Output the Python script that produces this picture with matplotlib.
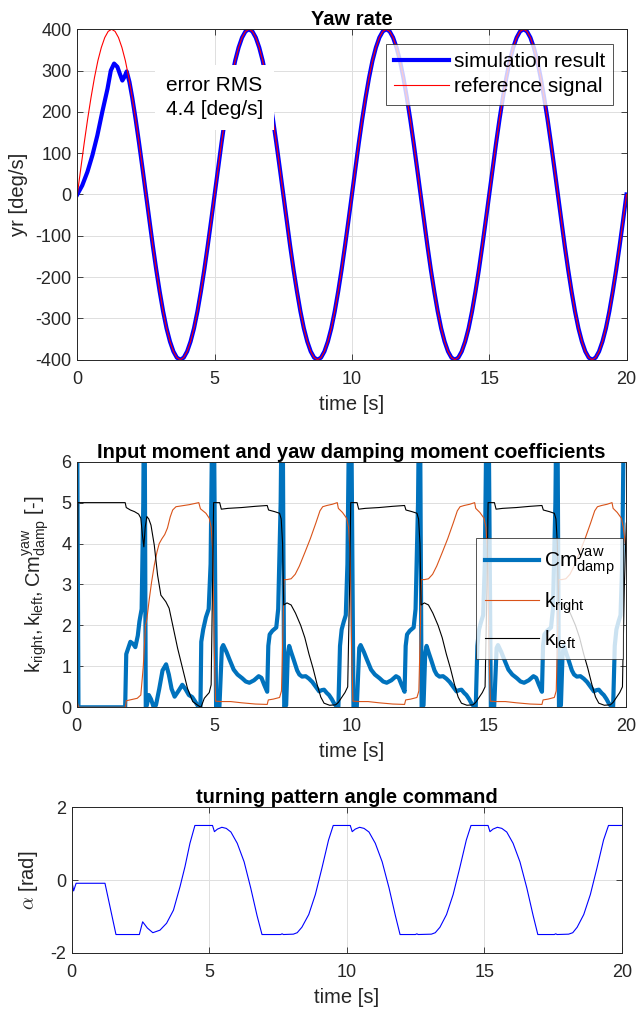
import numpy as np
import matplotlib
matplotlib.use("Agg")
import matplotlib.pyplot as plt

plt.rcParams["font.family"] = ["Liberation Sans", "DejaVu Sans"]
plt.rcParams["mathtext.fontset"] = "cm"
plt.rcParams["axes.unicode_minus"] = False

# ---------------- data ----------------
# Yaw rate: reference signal sampled every 0.125 s
ref_t = np.arange(0, 20.001, 0.125)
ref_yr = [
    0, 63, 124, 182, 235, 283, 324, 356, 380, 395, 400, 395, 380, 356, 324, 283, 235, 182, 124, 63,
    0, -63, -124, -182, -235, -283, -324, -356, -380, -395, -400, -395, -380, -356, -324, -283, -235, -182, -124, -63,
    0, 63, 124, 182, 235, 283, 324, 356, 380, 395, 400, 395, 380, 356, 324, 283, 235, 182, 124, 63,
    0, -63, -124, -182, -235, -283, -324, -356, -380, -395, -400, -395, -380, -356, -324, -283, -235, -182, -124, -63,
    0, 63, 124, 182, 235, 283, 324, 356, 380, 395, 400, 395, 380, 356, 324, 283, 235, 182, 124, 63,
    0, -63, -124, -182, -235, -283, -324, -356, -380, -395, -400, -395, -380, -356, -324, -283, -235, -182, -124, -63,
    0, 63, 124, 182, 235, 283, 324, 356, 380, 395, 400, 395, 380, 356, 324, 283, 235, 182, 124, 63,
    0, -63, -124, -182, -235, -283, -324, -356, -380, -395, -400, -395, -380, -356, -324, -283, -235, -182, -124, -63,
    0,
]

# simulation result: own start-up, then on top of the reference
sim_t = [0, 0.18, 0.37, 0.55, 0.73, 0.91, 1.10, 1.22, 1.34, 1.46, 1.55, 1.64, 1.72, 1.80, 1.90, 2.0] \
    + list(ref_t[17:])
sim_yr = [
    0, 22, 55, 95, 143, 200, 256, 300, 317, 309, 292, 276, 285, 298, 272, 235,
    182, 124, 63,
    0, -63, -124, -182, -235, -283, -324, -356, -380, -395, -400, -395, -380, -356, -324, -283, -235, -182, -124, -63,
    0, 63, 124, 182, 235, 283, 324, 356, 380, 395, 400, 395, 380, 356, 324, 283, 235, 182, 124, 63,
    0, -63, -124, -182, -235, -283, -324, -356, -380, -395, -400, -395, -380, -356, -324, -283, -235, -182, -124, -63,
    0, 63, 124, 182, 235, 283, 324, 356, 380, 395, 400, 395, 380, 356, 324, 283, 235, 182, 124, 63,
    0, -63, -124, -182, -235, -283, -324, -356, -380, -395, -400, -395, -380, -356, -324, -283, -235, -182, -124, -63,
    0, 63, 124, 182, 235, 283, 324, 356, 380, 395, 400, 395, 380, 356, 324, 283, 235, 182, 124, 63,
    0, -63, -124, -182, -235, -283, -324, -356, -380, -395, -400, -395, -380, -356, -324, -283, -235, -182, -124, -63,
    0,
]

# Cm_damp^yaw (time, value); spikes leave the axes at the top
cm_pts = [
    (0, 9), (0.06, 0), (1.76, 0), (1.80, 1.3), (1.95, 1.6), (2.05, 1.55), (2.13, 1.47),
    (2.22, 1.75), (2.28, 2.1), (2.36, 2.4), (2.42, 5.0), (2.46, 9), (2.51, 0),
    (2.55, 0.05), (2.62, 0.3), (2.70, 0.2), (2.80, 0.0), (2.88, 0.05), (3.0, 0.45),
    (3.12, 0.9), (3.25, 1.05), (3.35, 0.8), (3.45, 0.45), (3.56, 0.26), (3.70, 0.4),
    (3.84, 0.55), (3.95, 0.45), (4.08, 0.3), (4.20, 0.25), (4.30, 0.15), (4.42, 0.02),
    (4.50, 0.0), (4.53, 1.6), (4.60, 1.9), (4.70, 2.2), (4.80, 2.4), (4.87, 3.5),
    (4.92, 6.5), (4.97, 9),
    (5.07, 0.0), (5.19, 0.0), (5.28, 1.45), (5.33, 1.52), (5.45, 1.35), (5.55, 1.18),
    (5.71, 0.92), (5.85, 0.8), (6.02, 0.71), (6.15, 0.63), (6.28, 0.6), (6.45, 0.66),
    (6.62, 0.76), (6.72, 0.72), (6.82, 0.55), (6.93, 0.38), (6.97, 1.5), (7.02, 1.78),
    (7.12, 1.87), (7.26, 1.95), (7.33, 2.4), (7.42, 5.0), (7.48, 9), (7.55, 0),
    (7.62, 0.05), (7.68, 1.3), (7.73, 1.5), (7.80, 1.35), (7.90, 1.15), (8.02, 0.9),
    (8.10, 0.8), (8.20, 0.75), (8.33, 0.76), (8.45, 0.7), (8.57, 0.62), (8.70, 0.5),
    (8.82, 0.39), (8.92, 0.42), (9.00, 0.43), (9.10, 0.35), (9.18, 0.30), (9.28, 0.2),
    (9.36, 0.1), (9.48, 0.0), (9.52, 0.0), (9.58, 1.5), (9.64, 1.9), (9.72, 2.1),
    (9.79, 2.25), (9.85, 3.5), (9.90, 6.5), (9.97, 9),
    (10.07, 0.0), (10.19, 0.0), (10.28, 1.45), (10.33, 1.52), (10.45, 1.35), (10.55, 1.18),
    (10.71, 0.92), (10.85, 0.8), (11.02, 0.71), (11.15, 0.63), (11.28, 0.6), (11.45, 0.66),
    (11.62, 0.76), (11.72, 0.72), (11.82, 0.55), (11.93, 0.38), (11.97, 1.5), (12.02, 1.78),
    (12.12, 1.87), (12.26, 1.95), (12.33, 2.4), (12.42, 5.0), (12.48, 9), (12.55, 0),
    (12.62, 0.05), (12.68, 1.3), (12.73, 1.5), (12.80, 1.35), (12.90, 1.15), (13.02, 0.9),
    (13.10, 0.8), (13.20, 0.75), (13.33, 0.76), (13.45, 0.7), (13.57, 0.62), (13.70, 0.5),
    (13.82, 0.39), (13.92, 0.42), (14.00, 0.43), (14.10, 0.35), (14.18, 0.30), (14.28, 0.2),
    (14.36, 0.1), (14.48, 0.0), (14.52, 0.0), (14.58, 1.5), (14.64, 1.9), (14.72, 2.1),
    (14.79, 2.25), (14.85, 3.5), (14.90, 6.5), (14.97, 9),
    (15.07, 0.0), (15.19, 0.0), (15.28, 1.45), (15.33, 1.52), (15.45, 1.35), (15.55, 1.18),
    (15.71, 0.92), (15.85, 0.8), (16.02, 0.71), (16.15, 0.63), (16.28, 0.6), (16.45, 0.66),
    (16.62, 0.76), (16.72, 0.72), (16.82, 0.55), (16.93, 0.38), (16.97, 1.5), (17.02, 1.78),
    (17.12, 1.87), (17.26, 1.95), (17.33, 2.4), (17.42, 5.0), (17.48, 9), (17.55, 0),
    (17.62, 0.05), (17.68, 1.3), (17.73, 1.5), (17.80, 1.35), (17.90, 1.15), (18.02, 0.9),
    (18.10, 0.8), (18.20, 0.75), (18.33, 0.76), (18.45, 0.7), (18.57, 0.62), (18.70, 0.5),
    (18.82, 0.39), (18.92, 0.42), (19.00, 0.43), (19.10, 0.35), (19.18, 0.30), (19.28, 0.2),
    (19.36, 0.1), (19.48, 0.0), (19.52, 0.0), (19.58, 1.5), (19.64, 1.9), (19.72, 2.1),
    (19.79, 2.25), (19.85, 3.5), (19.90, 6.5), (19.97, 9),
]

k_right_pts = [
    (0, 0), (0.02, 0.12), (0.06, 0.0), (1.77, 0.0), (1.80, 0.16), (2.0, 0.19), (2.2, 0.22),
    (2.33, 0.3), (2.42, 1.0), (2.5, 2.0), (2.55, 2.15), (2.63, 2.6), (2.72, 3.05),
    (2.82, 3.47), (2.92, 3.8), (3.0, 4.0), (3.1, 4.12), (3.2, 4.22), (3.3, 4.38),
    (3.4, 4.65), (3.49, 4.82), (3.61, 4.9), (4.09, 4.95), (4.44, 5.0), (4.5, 4.85),
    (4.7, 4.74), (4.82, 4.62), (4.89, 4.4), (4.95, 3.8), (5.0, 1.5),
    (5.05, 0.15), (5.25, 0.14), (5.6, 0.14), (6.0, 0.11), (6.5, 0.08), (6.93, 0.07),
    (6.97, 0.18), (7.15, 0.2), (7.38, 0.24), (7.45, 0.4), (7.5, 1.8), (7.54, 3.12),
    (7.65, 3.12), (7.8, 3.14), (7.95, 3.25), (8.1, 3.45), (8.3, 3.78), (8.5, 4.12),
    (8.7, 4.5), (8.85, 4.8), (8.95, 4.9), (9.1, 4.93), (9.3, 4.96), (9.48, 5.0),
    (9.52, 4.86), (9.67, 4.76), (9.82, 4.62), (9.89, 4.4), (9.95, 3.8), (10.0, 1.5),
    (10.05, 0.15), (10.25, 0.14), (10.6, 0.14), (11.0, 0.11), (11.5, 0.08), (11.93, 0.07),
    (11.97, 0.18), (12.15, 0.2), (12.38, 0.24), (12.45, 0.4), (12.5, 1.8), (12.54, 3.12),
    (12.65, 3.12), (12.8, 3.14), (12.95, 3.25), (13.1, 3.45), (13.3, 3.78), (13.5, 4.12),
    (13.7, 4.5), (13.85, 4.8), (13.95, 4.9), (14.1, 4.93), (14.3, 4.96), (14.48, 5.0),
    (14.52, 4.86), (14.67, 4.76), (14.82, 4.62), (14.89, 4.4), (14.95, 3.8), (15.0, 1.5),
    (15.05, 0.15), (15.25, 0.14), (15.6, 0.14), (16.0, 0.11), (16.5, 0.08), (16.93, 0.07),
    (16.97, 0.18), (17.15, 0.2), (17.38, 0.24), (17.45, 0.4), (17.5, 1.8), (17.54, 3.12),
    (17.65, 3.12), (17.8, 3.14), (17.95, 3.25), (18.1, 3.45), (18.3, 3.78), (18.5, 4.12),
    (18.7, 4.5), (18.85, 4.8), (18.95, 4.9), (19.1, 4.93), (19.3, 4.96), (19.48, 5.0),
    (19.52, 4.86), (19.67, 4.76), (19.82, 4.62), (19.89, 4.4), (20.0, 3.8),
]

k_left_pts = [
    (0, 0), (0.04, 5.0), (1.76, 5.0), (1.80, 4.88), (1.95, 4.82), (2.1, 4.78), (2.25, 4.72),
    (2.33, 4.62), (2.39, 4.2), (2.44, 3.92), (2.49, 4.4), (2.55, 4.66), (2.62, 4.6),
    (2.70, 4.45), (2.82, 3.96), (2.94, 3.23), (3.06, 2.74), (3.24, 2.58), (3.36, 2.42),
    (3.49, 2.01), (3.67, 1.44), (3.85, 0.95), (4.03, 0.46), (4.22, 0.14), (4.40, 0.05),
    (4.52, 0.0), (4.64, 0.22), (4.82, 0.36), (4.89, 0.55), (4.94, 3.0), (4.98, 5.0),
    (5.2, 5.0), (5.26, 4.84), (5.5, 4.86), (6.0, 4.88), (6.5, 4.91), (6.93, 4.93),
    (6.98, 4.82), (7.2, 4.78), (7.38, 4.74), (7.44, 4.6), (7.49, 4.0), (7.53, 2.5),
    (7.65, 2.55), (7.8, 2.5), (7.96, 2.3), (8.15, 2.0), (8.3, 1.7), (8.45, 1.3),
    (8.6, 0.95), (8.75, 0.55), (8.88, 0.25), (9.0, 0.1), (9.2, 0.05), (9.42, 0.06),
    (9.52, 0.12), (9.62, 0.22), (9.76, 0.36), (9.86, 0.5), (9.93, 3.0), (9.97, 5.0),
    (10.2, 5.0), (10.26, 4.84), (10.5, 4.86), (11.0, 4.88), (11.5, 4.91), (11.93, 4.93),
    (11.98, 4.82), (12.2, 4.78), (12.38, 4.74), (12.44, 4.6), (12.49, 4.0), (12.53, 2.5),
    (12.65, 2.55), (12.8, 2.5), (12.96, 2.3), (13.15, 2.0), (13.3, 1.7), (13.45, 1.3),
    (13.6, 0.95), (13.75, 0.55), (13.88, 0.25), (14.0, 0.1), (14.2, 0.05), (14.42, 0.06),
    (14.52, 0.12), (14.62, 0.22), (14.76, 0.36), (14.86, 0.5), (14.93, 3.0), (14.97, 5.0),
    (15.2, 5.0), (15.26, 4.84), (15.5, 4.86), (16.0, 4.88), (16.5, 4.91), (16.93, 4.93),
    (16.98, 4.82), (17.2, 4.78), (17.38, 4.74), (17.44, 4.6), (17.49, 4.0), (17.53, 2.5),
    (17.65, 2.55), (17.8, 2.5), (17.96, 2.3), (18.15, 2.0), (18.3, 1.7), (18.45, 1.3),
    (18.6, 0.95), (18.75, 0.55), (18.88, 0.25), (19.0, 0.1), (19.2, 0.05), (19.42, 0.06),
    (19.52, 0.12), (19.62, 0.22), (19.76, 0.36), (19.86, 0.5), (19.93, 3.0), (20.0, 4.5),
]

# turning pattern angle command alpha [rad]
alpha_pts = [
    (0, 0), (0.07, -0.30), (0.16, -0.09), (1.21, -0.09), (1.61, -1.5), (2.46, -1.5),
    (2.58, -1.15), (2.75, -1.32), (2.95, -1.45), (3.21, -1.38), (3.45, -1.19),
    (3.70, -0.83), (3.94, -0.18), (4.12, 0.37), (4.30, 1.01), (4.48, 1.5),
    (5.12, 1.5), (5.19, 1.33), (5.30, 1.40), (5.46, 1.45), (5.62, 1.42), (5.79, 1.32),
    (6.02, 1.01), (6.27, 0.5), (6.51, -0.22), (6.74, -0.98), (6.92, -1.5),
    (7.6, -1.5), (7.65, -1.48), (7.7, -1.5), (8.06, -1.49), (8.20, -1.45), (8.37, -1.3),
    (8.62, -0.95), (8.86, -0.4), (9.10, 0.33), (9.34, 1.1), (9.51, 1.5),
    (10.13, 1.5), (10.20, 1.33), (10.31, 1.40), (10.47, 1.45), (10.63, 1.42), (10.81, 1.32),
    (11.04, 1.01), (11.29, 0.5), (11.54, -0.22), (11.77, -0.98), (11.94, -1.5),
    (12.5, -1.5), (12.55, -1.48), (12.6, -1.5), (13.08, -1.49), (13.22, -1.45),
    (13.39, -1.3), (13.63, -0.95), (13.87, -0.4), (14.11, 0.33), (14.35, 1.1), (14.52, 1.5),
    (15.14, 1.5), (15.21, 1.33), (15.32, 1.40), (15.48, 1.45), (15.64, 1.42), (15.82, 1.32),
    (16.05, 1.01), (16.30, 0.5), (16.55, -0.22), (16.78, -0.98), (16.95, -1.5),
    (17.55, -1.5), (17.6, -1.48), (17.65, -1.5), (18.07, -1.49), (18.22, -1.45),
    (18.38, -1.3), (18.62, -0.95), (18.86, -0.4), (19.10, 0.33), (19.34, 1.1), (19.52, 1.5),
    (20.0, 1.5),
]

x_ticks = [0, 5, 10, 15, 20]
rms_text = "error RMS\n4.4 [deg/s]"

# ---------------- figure ----------------
W, H = 637, 1013
fig = plt.figure(figsize=(W / 100, H / 100), dpi=100)


def rect(left, right, top, bottom):
    return [left / W, 1 - bottom / H, (right - left) / W, (bottom - top) / H]


ax1 = fig.add_axes(rect(77.3, 626.5, 29.3, 359.7))
ax2 = fig.add_axes(rect(76.8, 626.3, 461.7, 707.3))
ax3 = fig.add_axes(rect(71.7, 621.7, 807.3, 952.7))

dark = "#262626"
TICK_FS = 13
LABEL_FS = 14.5
TITLE_FS = 14.5


def style(ax):
    ax.grid(True, color="#DFDFDF", linewidth=0.7)
    ax.set_axisbelow(True)
    ax.tick_params(direction="in", top=True, right=True, length=4, width=0.6,
                   colors=dark, labelsize=TICK_FS, pad=4)
    ax.tick_params(axis="x", pad=8)
    for s in ax.spines.values():
        s.set_color(dark)
        s.set_linewidth(0.7)
    ax.set_xlim(0, 20)
    ax.set_xticks(x_ticks)
    ax.set_xlabel("time [s]", fontsize=LABEL_FS, color=dark, labelpad=5)


# --- Yaw rate ---
style(ax1)
ax1.plot(sim_t, sim_yr, color="#0000FF", lw=3.0, label="simulation result")
ax1.plot(ref_t, ref_yr, color="#FF0000", lw=0.8, label="reference signal")
ax1.set_ylim(-400, 400)
ax1.set_yticks(range(-400, 401, 100))
ax1.set_title("Yaw rate", fontsize=TITLE_FS, fontweight="bold", pad=3)
ax1.set_ylabel("yr [deg/s]", fontsize=LABEL_FS, color=dark)
ax1.yaxis.set_label_coords(-0.09, 0.5)
leg1 = ax1.legend(loc="upper right", bbox_to_anchor=(0.976, 0.956), fontsize=15,
                  frameon=True, fancybox=False, borderaxespad=0, handlelength=2.6,
                  handletextpad=0.25, borderpad=0.4, labelspacing=0.3)
leg1.get_frame().set_edgecolor(dark)
leg1.get_frame().set_linewidth(0.7)
ax1.text(3.23, 235, rms_text, fontsize=15, ha="left", va="center", linespacing=1.3,
         zorder=5, bbox=dict(facecolor="white", edgecolor="none", pad=8))

# --- moment coefficients ---
style(ax2)
cm_t, cm_v = np.array(cm_pts).T
kr_t, kr_v = np.array(k_right_pts).T
kl_t, kl_v = np.array(k_left_pts).T
ax2.plot(cm_t, cm_v, color="#0072BD", lw=3.0, label=r"$\mathregular{Cm^{yaw}_{damp}}$")
ax2.plot(kr_t, kr_v, color="#D95319", lw=0.8, label=r"$\mathregular{k_{right}}$")
ax2.plot(kl_t, kl_v, color="black", lw=0.8, label=r"$\mathregular{k_{left}}$")
ax2.set_ylim(0, 6)
ax2.set_yticks(range(0, 7))
ax2.set_title("Input moment and yaw damping moment coefficients", fontsize=TITLE_FS,
              fontweight="bold", pad=3)
ax2.set_ylabel(r"$\mathregular{k_{right}, k_{left}, Cm^{yaw}_{damp}}$ [-]",
               fontsize=LABEL_FS, color=dark)
ax2.yaxis.set_label_coords(-0.045, 0.5)
leg2 = ax2.legend(loc="upper right", bbox_to_anchor=(0.994, 0.689), fontsize=15,
                  frameon=True, fancybox=False, borderaxespad=0, handlelength=2.6,
                  handletextpad=0.25, borderpad=0.4, labelspacing=0.6)
leg2.get_frame().set_edgecolor(dark)
leg2.get_frame().set_linewidth(0.7)

# --- alpha command ---
style(ax3)
al_t, al_v = np.array(alpha_pts).T
ax3.plot(al_t, al_v, color="#0000FF", lw=0.8)
ax3.set_ylim(-2, 2)
ax3.set_yticks([-2, 0, 2])
ax3.set_title("turning pattern angle command", fontsize=TITLE_FS, fontweight="bold", pad=3)
ax3.set_ylabel(r"$\alpha$ [rad]", fontsize=LABEL_FS, color=dark)
ax3.yaxis.set_label_coords(-0.058, 0.5)

fig.savefig("out.png", dpi=100)
